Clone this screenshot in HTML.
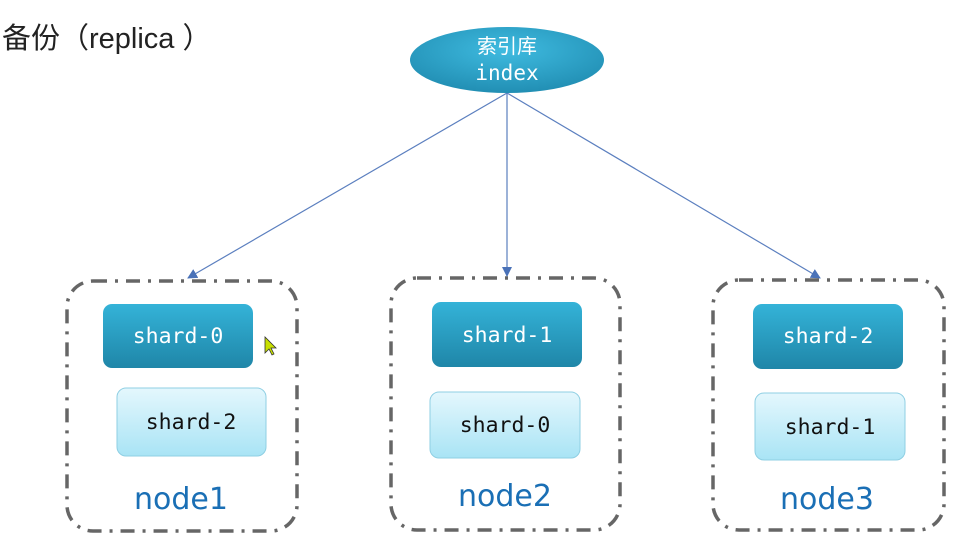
<!DOCTYPE html>
<html><head><meta charset="utf-8"><style>
html,body{margin:0;padding:0;background:#fff;}
svg{display:block;}
.m{font-family:"DejaVu Sans Mono","Liberation Mono",monospace;font-size:21.5px;}
</style></head><body>
<svg width="977" height="548" viewBox="0 0 977 548" xmlns="http://www.w3.org/2000/svg">
<defs>
<linearGradient id="dk" x1="0" y1="0" x2="0" y2="1"><stop offset="0" stop-color="#34b3d8"/><stop offset="1" stop-color="#1f86a8"/></linearGradient>
<linearGradient id="lt" x1="0" y1="0" x2="0" y2="1"><stop offset="0" stop-color="#e4f7fd"/><stop offset="1" stop-color="#a9e4f5"/></linearGradient>
<radialGradient id="el" cx="0.5" cy="0.35" r="0.7"><stop offset="0" stop-color="#3fbbe0"/><stop offset="1" stop-color="#1f8bb0"/></radialGradient>
<marker id="ar" markerWidth="10" markerHeight="10" refX="9" refY="5" orient="auto" markerUnits="userSpaceOnUse"><path d="M0,0 L10,5 L0,10 z" fill="#4a72b8"/></marker>
</defs>
<text x="2" y="48" font-family="Liberation Sans,'Noto Sans CJK SC',sans-serif" font-size="29" fill="#222">备份（replica ）</text>
<g stroke="#5b7fbf" stroke-width="1.2" fill="none">
<line x1="507" y1="93" x2="188" y2="278" marker-end="url(#ar)"/>
<line x1="507" y1="93" x2="507" y2="276" marker-end="url(#ar)"/>
<line x1="507" y1="93" x2="820" y2="278" marker-end="url(#ar)"/>
</g>
<ellipse cx="507" cy="60" rx="97" ry="33" fill="url(#el)"/>
<text x="507" y="53" text-anchor="middle" font-family="'Noto Sans CJK SC',sans-serif" font-size="20" fill="#fff">索引库</text>
<text x="507" y="80" text-anchor="middle" font-family="'DejaVu Sans Mono',monospace" font-size="21" fill="#fff">index</text>
<g fill="none" stroke="#666" stroke-width="3.5" stroke-dasharray="14,8,3,8">
<rect x="67" y="281" width="230" height="250" rx="26"/>
<rect x="391" y="278" width="229" height="252" rx="26"/>
<rect x="713" y="280" width="231" height="250" rx="26"/>
</g>
<g>
<rect x="103" y="304" width="150" height="64" rx="9" fill="url(#dk)"/>
<rect x="117" y="388" width="149" height="68" rx="9" fill="url(#lt)" stroke="#8fcfe3"/>
<rect x="432" y="302" width="150" height="65" rx="9" fill="url(#dk)"/>
<rect x="430" y="392" width="150" height="66" rx="9" fill="url(#lt)" stroke="#8fcfe3"/>
<rect x="753" y="304" width="150" height="65" rx="9" fill="url(#dk)"/>
<rect x="755" y="393" width="150" height="67" rx="9" fill="url(#lt)" stroke="#8fcfe3"/>
</g>
<g class="m" text-anchor="middle">
<text x="178" y="343" fill="#fff">shard-0</text>
<text x="191" y="429" fill="#111">shard-2</text>
<text x="507" y="342" fill="#fff">shard-1</text>
<text x="505" y="432" fill="#111">shard-0</text>
<text x="828" y="343" fill="#fff">shard-2</text>
<text x="830" y="434" fill="#111">shard-1</text>
</g>
<g font-family="'DejaVu Sans',sans-serif" font-size="30" fill="#1a6fb5" text-anchor="middle">
<text x="181" y="509">node1</text>
<text x="505" y="506">node2</text>
<text x="827" y="509">node3</text>
</g>
<path d="M265,337 L265,353 L269,349 L272,355 L274,354 L271,348 L276,348 z" fill="#c8e000" stroke="#333" stroke-width="0.8"/>
</svg>
</body></html>
